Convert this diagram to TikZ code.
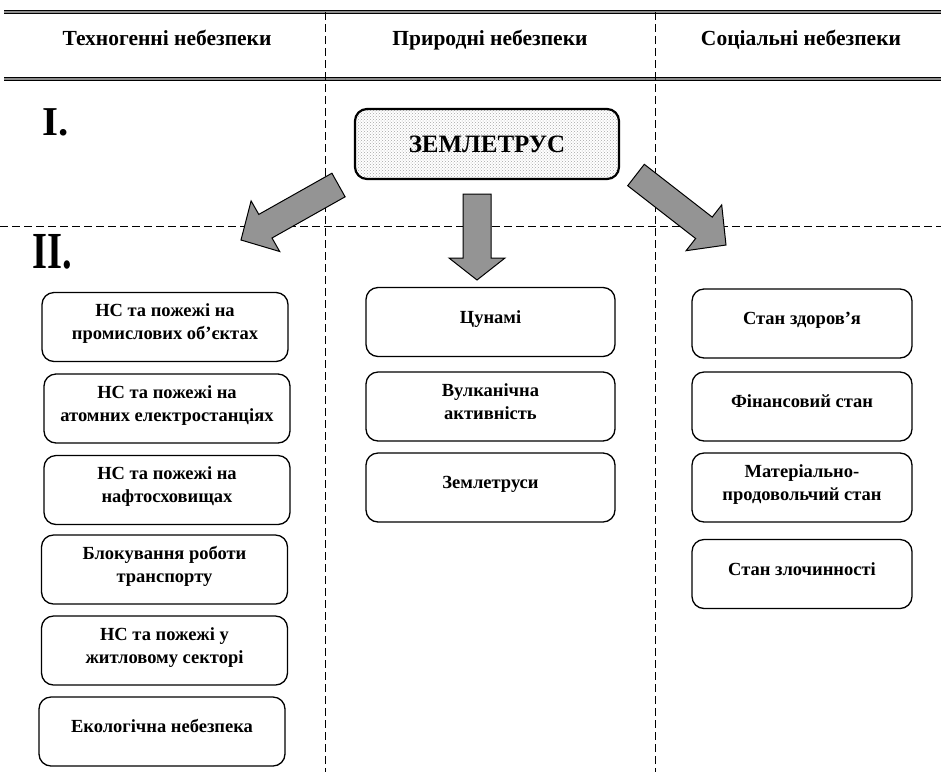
\documentclass[tikz,border=0pt]{standalone}
\usepackage{fontspec}
\setmainfont{Liberation Serif}
\usetikzlibrary{patterns}
\tikzset{
  hdr/.style={font=\fontsize{21.5}{25}\selectfont\bfseries, anchor=base, inner sep=0pt},
  roman/.style={font=\fontsize{41}{44}\selectfont\bfseries, anchor=base west, inner sep=0pt},
  item/.style={draw, line width=1.3pt, rounded corners=12pt, align=center,
    font=\fontsize{18.5}{23}\selectfont\bfseries, inner sep=0pt,
    execute at begin node={\rule{0pt}{12.5pt}},
    execute at end node={\rule[-10.5pt]{0pt}{10.5pt}}},
  leftbox/.style={item, minimum width=246pt, minimum height=69pt},
  midbox/.style={item, minimum width=249pt, minimum height=69pt},
  rightbox/.style={item, minimum width=220pt, minimum height=69pt},
  mainbox/.style={draw, line width=2.2pt, rounded corners=12pt, minimum width=264pt,
    minimum height=70pt, font=\fontsize{25}{28}\selectfont\bfseries,
    preaction={fill=white}, pattern=crosshatch dots, pattern color=black!35},
  sep/.style={line width=0.8pt, dash pattern=on 8pt off 4pt},
  rule/.style={line width=1pt, double=black!45, double distance=1.4pt},
  blockarrow/.style={draw, line width=1pt, fill=black!42, line join=miter},
}
\begin{document}
\begin{tikzpicture}[x=1pt, y=-1pt]
\useasboundingbox (0,0) rectangle (941,772);
% header rules and separators
\draw[rule] (4,12) -- (941,12);
\draw[rule] (4,79) -- (941,79);
\draw[sep] (325,12) -- (325,772);
\draw[sep] (655,12) -- (655,772);
\draw[sep] (0,226) -- (941,226);
% headers
\node[hdr] (h1) at (167,45) {Техногенні небезпеки};
\node[hdr] (h2) at (490,45) {Природні небезпеки};
\node[hdr] (h3) at (801,45) {Соціальні небезпеки};
\node[roman] (r1) at (42,135) {I.};
\node[roman] (r2) at (32,268) {\fontsize{52}{56}\selectfont\scalebox{0.74}[1]{II.}};
% main box
\node[mainbox] (eq) at (487,144) {ЗЕМЛЕТРУС};
% block arrows
\draw[blockarrow] (331.9,173.2) -- (258.8,214.4) -- (251.1,200.9) -- (241,240)
  -- (279.7,251.5) -- (272.0,238.0) -- (345.1,196.8) -- cycle;
\draw[blockarrow] (463,194) -- (491,194) -- (491,258) -- (505,258) -- (477,280)
  -- (449,258) -- (463,258) -- cycle;
\draw[blockarrow] (644.3,164.3) -- (712.2,217.1) -- (721.7,204.9) -- (726,245)
  -- (686.1,250.7) -- (695.6,238.5) -- (627.7,185.7) -- cycle;
% left column
\node[leftbox] (l1) at (165,327) {НС та пожежі на\\промислових об’єктах};
\node[leftbox] (l2) at (167,408.5) {НС та пожежі на\\атомних електростанціях};
\node[leftbox] (l3) at (167,490) {НС та пожежі на\\нафтосховищах};
\node[leftbox] (l4) at (164.5,569.5) {Блокування роботи\\транспорту};
\node[leftbox] (l5) at (164.5,650.5) {НС та пожежі у\\житловому секторі};
\node[leftbox] (l6) at (162,731.5) {Екологічна небезпека};
% middle column
\node[midbox] (m1) at (490.5,322) {Цунамі};
\node[midbox] (m2) at (490.5,406.5) {Вулканічна\\активність};
\node[midbox] (m3) at (490.5,487.5) {Землетруси};
% right column
\node[rightbox] (s1) at (802,323.5) {Стан здоров’я};
\node[rightbox] (s2) at (802,406.5) {Фінансовий стан};
\node[rightbox] (s3) at (802,487.5) {Матеріально-\\продовольчий стан};
\node[rightbox] (s4) at (802,574) {Стан злочинності};
\end{tikzpicture}
\end{document}
